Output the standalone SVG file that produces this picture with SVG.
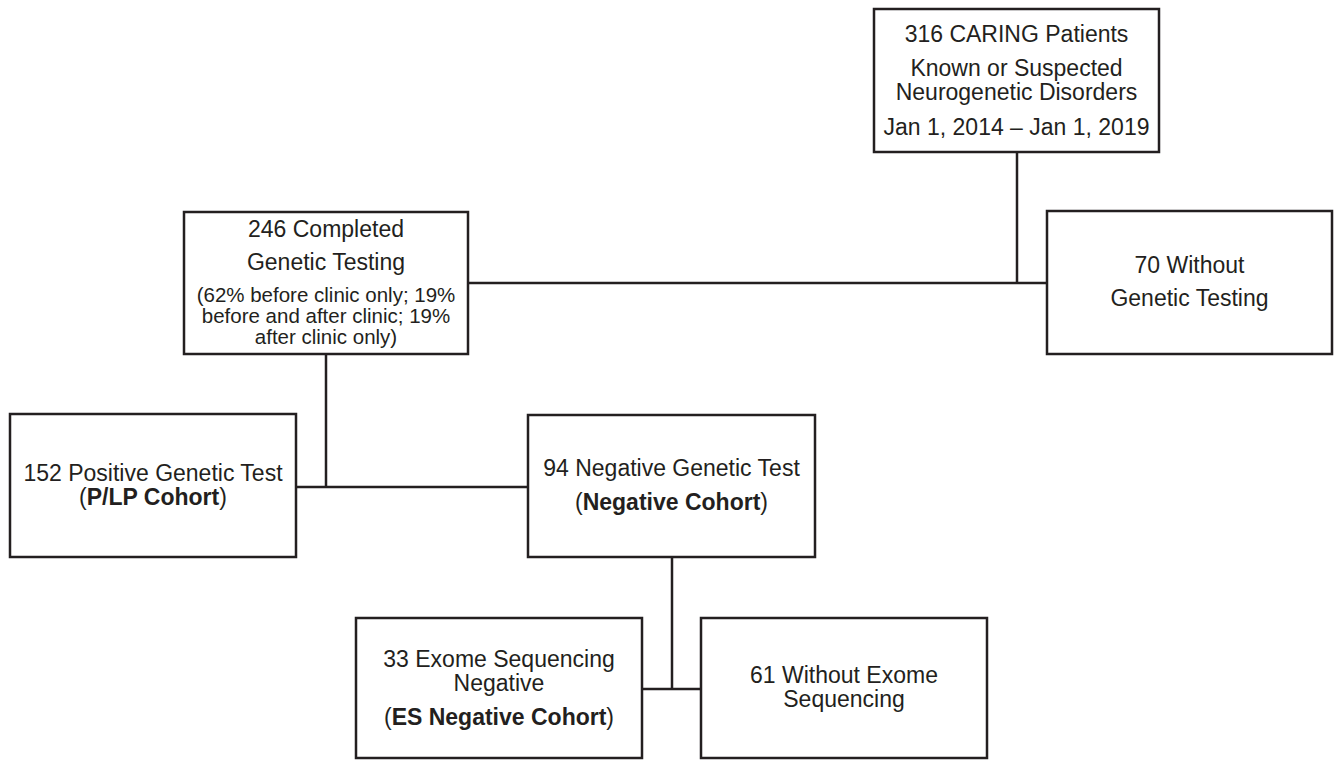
<svg xmlns="http://www.w3.org/2000/svg" width="1340" height="760" viewBox="0 0 1340 760">
<style>
.box{fill:#fff;stroke:#231f20;stroke-width:2.5}
.t{font-family:"Liberation Sans",Arial,sans-serif;font-size:23px;fill:#231f20;text-anchor:middle}
.s{font-size:20.5px}
.b{font-weight:bold}
.c{stroke:#231f20;stroke-width:2.5;fill:none}
</style>
<rect width="1340" height="760" fill="#fff"/>
<g id="connectors">
<line class="c" x1="1017" y1="152" x2="1017" y2="283"/>
<line class="c" x1="468" y1="283" x2="1047" y2="283"/>
<line class="c" x1="326" y1="354" x2="326" y2="487"/>
<line class="c" x1="296" y1="487" x2="528" y2="487"/>
<line class="c" x1="672" y1="557" x2="672" y2="689"/>
<line class="c" x1="642" y1="689" x2="701" y2="689"/>
</g>
<g id="n316">
<rect class="box" x="874" y="9" width="285" height="143"/>
<text class="t" x="1016.5" y="42">316 CARING Patients</text>
<text class="t" x="1016.5" y="76">Known or Suspected</text>
<text class="t" x="1016.5" y="100">Neurogenetic Disorders</text>
<text class="t" x="1016.5" y="135">Jan 1, 2014 – Jan 1, 2019</text>
</g>
<g id="n246">
<rect class="box" x="184" y="212" width="284" height="142"/>
<text class="t" x="326" y="237">246 Completed</text>
<text class="t" x="326" y="270">Genetic Testing</text>
<text class="t s" x="326" y="302">(62% before clinic only; 19%</text>
<text class="t s" x="326" y="323">before and after clinic; 19%</text>
<text class="t s" x="326" y="344">after clinic only)</text>
</g>
<g id="n70">
<rect class="box" x="1047" y="211" width="285" height="143"/>
<text class="t" x="1189.5" y="273">70 Without</text>
<text class="t" x="1189.5" y="306">Genetic Testing</text>
</g>
<g id="n152">
<rect class="box" x="10" y="414" width="286" height="143"/>
<text class="t" x="153" y="481">152 Positive Genetic Test</text>
<text class="t" x="153" y="505">(<tspan class="b">P/LP Cohort</tspan>)</text>
</g>
<g id="n94">
<rect class="box" x="528" y="415" width="287" height="142"/>
<text class="t" x="671.5" y="476">94 Negative Genetic Test</text>
<text class="t" x="671.5" y="510">(<tspan class="b">Negative Cohort</tspan>)</text>
</g>
<g id="n33">
<rect class="box" x="356" y="618" width="286" height="140"/>
<text class="t" x="499" y="667">33 Exome Sequencing</text>
<text class="t" x="499" y="691">Negative</text>
<text class="t" x="499" y="725">(<tspan class="b">ES Negative Cohort</tspan>)</text>
</g>
<g id="n61">
<rect class="box" x="701" y="618" width="286" height="140"/>
<text class="t" x="844" y="683">61 Without Exome</text>
<text class="t" x="844" y="707">Sequencing</text>
</g>
</svg>
